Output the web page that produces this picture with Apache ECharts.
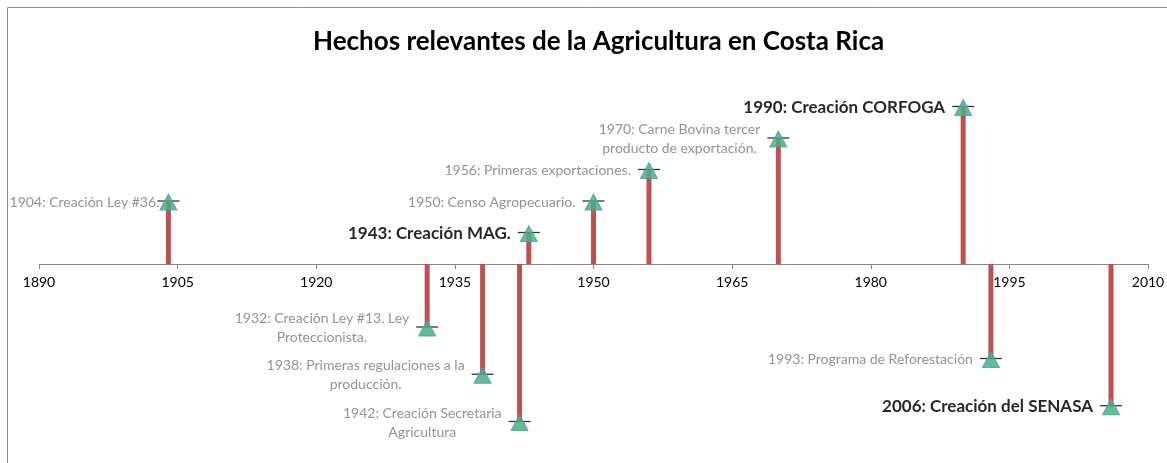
<!DOCTYPE html>
<html>
<head>
<meta charset="utf-8">
<script src="https://cdn.jsdelivr.net/npm/echarts@6/dist/echarts.min.js"></script>
<style>html,body{margin:0;padding:0;background:#fff}#chart{width:1167px;height:463px}</style>
</head>
<body>
<div id="chart"></div>
<script>
// años de cada hecho
var years = [1904, 1932, 1938, 1942, 1943, 1950, 1956, 1970, 1990, 1993, 2006];
// altura de la marca (positivo arriba del eje, negativo abajo)
var heights = [2, -2, -3.5, -5, 1, 2, 3, 4, 5, -3, -4.5];
// texto de cada hecho
var labels = [
    '1904: Creación Ley #36.',
    '1932: Creación Ley #13. Ley\nProteccionista.',
    '1938: Primeras regulaciones a la\nproducción.',
    '1942: Creación Secretaria\nAgricultura',
    '1943: Creación MAG.',
    '1950: Censo Agropecuario.',
    '1956: Primeras exportaciones.',
    '1970: Carne Bovina tercer\nproducto de exportación.',
    '1990: Creación CORFOGA',
    '1993: Programa de Reforestación',
    '2006: Creación del SENASA'
];
// hechos en negrita
var bold = [false, false, false, false, true, false, false, false, true, false, true];

var chartDom = document.getElementById('chart');
var myChart = echarts.init(chartDom);

var stems = years.map(function (y, i) { return [y, heights[i]]; });
var points = years.map(function (y, i) {
    var item = { value: [y, heights[i]], name: labels[i] };
    var tag = bold[i] ? 'b' : 'g';
    item.label = {
        formatter: labels[i].split('\n').map(function (t) { return '{' + tag + '|' + t + '}'; }).join('\n')
    };
    if (i === 0) item.label.distance = 0;
    return item;
});

var option = {
    animation: false,
    title: {
        text: 'Hechos relevantes de la Agricultura en Costa Rica',
        left: 308,
        top: 24,
        textStyle: { fontFamily: 'Lato', fontSize: 26, fontWeight: 'bold', color: '#000' }
    },
    graphic: [{
        type: 'rect',
        shape: { x: 7.5, y: 7.5, width: 1300, height: 600 },
        style: { fill: 'none', stroke: '#8c8c8c', lineWidth: 1 },
        silent: true
    }],
    grid: { left: 39, right: 19, top: 75, bottom: 10, containLabel: false, outerBoundsMode: 'none' },
    xAxis: {
        type: 'value',
        min: 1890,
        max: 2010,
        interval: 15,
        position: 'bottom',
        offset: -189,
        splitLine: { show: false },
        axisLine: { onZero: false, lineStyle: { color: '#868686', width: 1 } },
        axisTick: { show: true, length: 5, inside: false, lineStyle: { color: '#868686' } },
        axisLabel: {
            fontFamily: 'Lato', fontSize: 14, color: '#000', margin: 11,
            formatter: function (v) { return String(v); }
        }
    },
    yAxis: {
        type: 'value',
        min: -6,
        max: 6,
        show: false,
        splitLine: { show: false }
    },
    series: [
        {
            type: 'bar',
            data: stems,
            barWidth: 5,
            itemStyle: { color: '#C0504D' },
            z: 2
        },
        {
            type: 'scatter',
            data: stems,
            symbol: 'rect',
            symbolSize: [22, 1.3],
            itemStyle: { color: '#000' },
            z: 3
        },
        {
            type: 'scatter',
            data: points,
            symbol: 'triangle',
            symbolSize: [17, 16],
            symbolOffset: [0, 1],
            itemStyle: { color: '#4DB07E', borderColor: '#4A9BCB', borderWidth: 1, opacity: 0.85 },
            z: 4,
            label: {
                show: true,
                position: 'left',
                distance: 9,
                rich: {
                    g: { fontFamily: 'Lato', fontSize: 14, color: '#7F7F7F', align: 'center', lineHeight: 19 },
                    b: { fontFamily: 'Lato', fontSize: 17, fontWeight: 'bold', color: '#000', align: 'center', lineHeight: 19 }
                }
            }
        }
    ]
};
option && myChart.setOption(option);
</script>
</body>
</html>
